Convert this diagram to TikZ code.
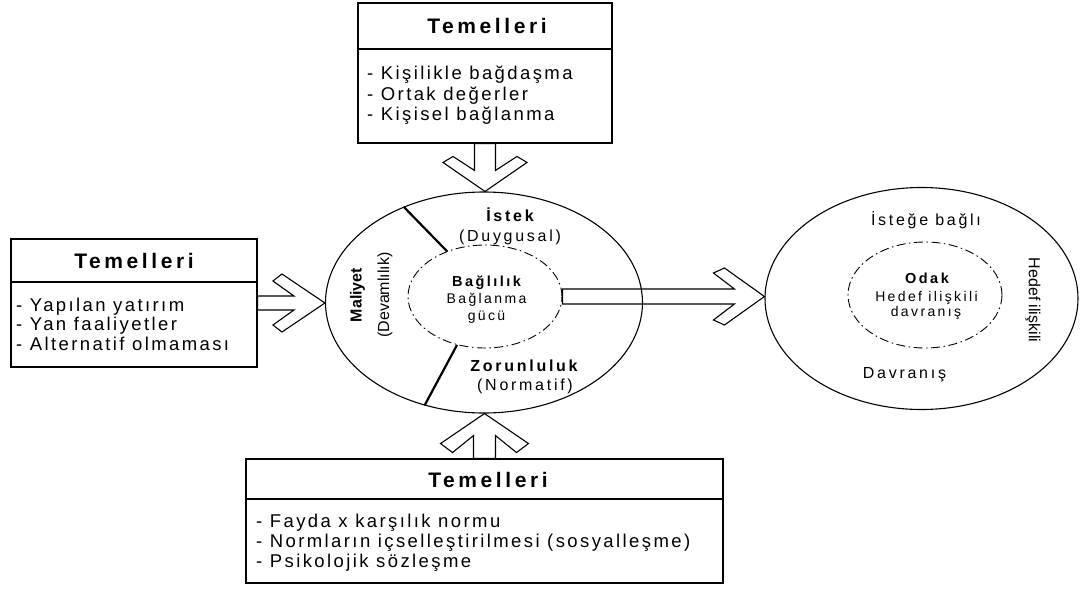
\documentclass[tikz,border=0pt]{standalone}
\usepackage{fontspec}
\setmainfont{Liberation Sans}
\newfontfamily\spc[LetterSpace=17]{Liberation Sans}
\newfontfamily\spi[LetterSpace=13]{Liberation Sans}
\usetikzlibrary{shapes.geometric,calc}
% #1 start, #2 tip, #3 shaft half width, #4 shaft end, #5/#6 inner wing corner, #7/#8 outer wing corner
\newcommand\blockarrow[8]{%
  \draw[blk]
    ($(#1)!#3pt!90:(#2)$) --
    ($(#2)!#4pt!(#1)!#3pt!90:(#2)$) --
    ($(#2)!#5pt!(#1)!#6pt!90:(#2)$) --
    ($(#2)!#7pt!(#1)!#8pt!90:(#2)$) --
    (#2) --
    ($(#2)!#7pt!(#1)!#8pt!-90:(#2)$) --
    ($(#2)!#5pt!(#1)!#6pt!-90:(#2)$) --
    ($(#2)!#4pt!(#1)!#3pt!-90:(#2)$) --
    ($(#1)!#3pt!-90:(#2)$) -- cycle;}
\begin{document}
\begin{tikzpicture}[x=1pt,y=-1pt,
  box/.style={draw, rectangle, line width=1.1pt, inner sep=0},
  ell/.style={draw, ellipse, line width=1.1pt, inner sep=0},
  dd/.style={draw, ellipse, line width=0.9pt, inner sep=0, dash pattern=on 9pt off 3.5pt on 1.5pt off 3.5pt},
  sepline/.style={line width=2.2pt},
  blk/.style={line width=1.1pt, line join=miter},
  hd/.style={font=\spc\bfseries\fontsize{21}{24}\selectfont, inner sep=0, anchor=base},
  item/.style={font=\spi\fontsize{18.5}{22}\selectfont, inner sep=0, anchor=base west},
  lbl/.style={font=\spc\fontsize{16}{19}\selectfont, inner sep=0, anchor=base},
  lblb/.style={font=\spc\bfseries\fontsize{16}{19}\selectfont, inner sep=0, anchor=base},
  sm/.style={font=\spc\fontsize{14}{17}\selectfont, inner sep=0, anchor=base},
  smb/.style={font=\spc\bfseries\fontsize{14.5}{17}\selectfont, inner sep=0, anchor=base},
  rot/.style={font=\fontsize{16}{19}\selectfont, inner sep=0}]
\useasboundingbox (0,0) rectangle (1088,590);

% ---- boxes ----
\node[box, minimum width=254pt, minimum height=140pt] (tbox) at (485,73) {};
\coordinate (tsepL) at (358,49); \coordinate (tsepR) at (612,49);
\draw[line width=1.1pt] (tsepL) -- (tsepR);
\node[hd] (th) at (487,33.3) {Temelleri};
\node[item] (t1) at (367,79.5) {- Kişilikle bağdaşma};
\node[item] (t2) at (367,100.3) {- Ortak değerler};
\node[item] (t3) at (367,120.5) {- Kişisel bağlanma};

\node[box, minimum width=246pt, minimum height=128pt] (lbox) at (134,303) {};
\coordinate (lsepL) at (11,282); \coordinate (lsepR) at (257,282);
\draw[line width=1.1pt] (lsepL) -- (lsepR);
\node[hd] (lh) at (134,268.3) {Temelleri};
\node[item] (l1) at (16,311.5) {- Yapılan yatırım};
\node[item] (l2) at (16,330.5) {- Yan faaliyetler};
\node[item] (l3) at (16,350) {- Alternatif olmaması};

\node[box, minimum width=477pt, minimum height=124pt] (bbox) at (484.5,521) {};
\coordinate (bsepL) at (246,499); \coordinate (bsepR) at (723,499);
\draw[line width=1.1pt] (bsepL) -- (bsepR);
\node[hd] (bh) at (488,487.7) {Temelleri};
\node[item] (b1) at (256,527) {- Fayda x karşılık normu};
\node[item] (b2) at (256,547) {- Normların içselleştirilmesi (sosyalleşme)};
\node[item] (b3) at (256,567) {- Psikolojik sözleşme};

% ---- left ellipse ----
\node[ell, minimum width=317pt, minimum height=221pt] (outerL) at (484,302.5) {};
\node[dd, minimum width=154pt, minimum height=103pt] (innerL) at (485,296.5) {};
\draw[sepline] (innerL.130) -- (outerL.130);
\draw[sepline] (innerL.240) -- (outerL.240);
\node[lblb] (istek) at (510,221) {İstek};
\node[lbl] (duyg) at (510,241) {(Duygusal)};
\node[smb] (bag) at (486.5,286) {Bağlılık};
\node[sm] (bagl) at (486.5,303.3) {Bağlanma};
\node[sm] (gucu) at (486.5,320) {gücü};
\node[lblb] (zor) at (524,371.7) {Zorunluluk};
\node[lbl] (norm) at (525,390) {(Normatif)};
\node[rot, rotate=90] (mal) at (357.5,295) {\bfseries Maliyet};
\node[rot, rotate=90] (dev) at (385,295) {(Devamlılık)};

% ---- right ellipse ----
\node[ell, minimum width=313pt, minimum height=222pt] (outerR) at (921.5,298.5) {};
\node[dd, minimum width=154pt, minimum height=106pt] (innerR) at (925,295) {};
\node[lbl] (istege) at (926,225) {İsteğe bağlı};
\node[smb] (odak) at (927,283) {Odak};
\node[sm] (hed) at (926.5,301) {Hedef ilişkili};
\node[sm] (davr) at (926,316.7) {davranış};
\node[lbl] (dav) at (904.5,378) {Davranış};
\node[rot, rotate=-90] (hedr) at (1033,300) {Hedef ilişkili};

% ---- block arrows ----
\coordinate (tTip) at (tbox.south |- outerL.north);
\blockarrow{tbox.south}{tTip}{10.5}{21}{35}{32}{29}{42}
\coordinate (lTip) at (outerL.west |- lbox.east);
\blockarrow{lbox.east}{lTip}{7}{31}{52}{22}{43}{29}
\coordinate (bTip) at (bbox.north |- outerL.south);
\blockarrow{bbox.north}{bTip}{11}{22}{39}{32}{30}{44}
\coordinate (mTip) at (outerR.west |- innerL.east);
\blockarrow{innerL.east}{mTip}{7.5}{30}{51}{23.5}{40}{28.5}
\end{tikzpicture}
\end{document}
